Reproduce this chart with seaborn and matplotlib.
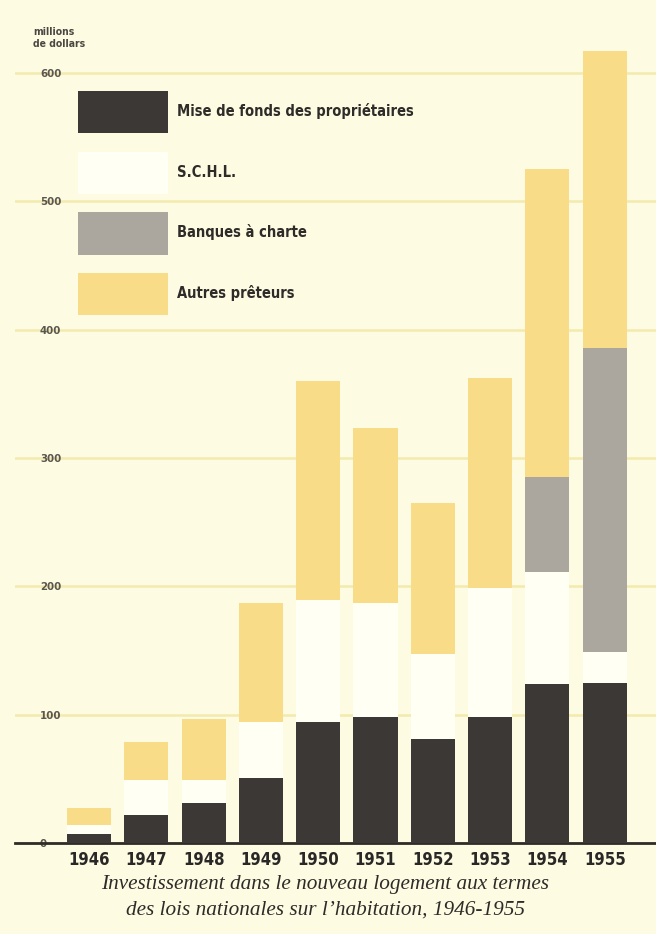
import matplotlib
matplotlib.use("Agg")
import matplotlib.pyplot as plt
import seaborn as sns
import numpy as np
import pandas as pd

years = ["1946", "1947", "1948", "1949", "1950", "1951", "1952", "1953", "1954", "1955"]
proprietaires = [7, 22, 31, 51, 94, 98, 81, 98, 124, 125]
schl = [7, 27, 18, 43, 95, 89, 66, 101, 87, 24]
banques = [0, 0, 0, 0, 0, 0, 0, 0, 74, 237]
autres = [13, 30, 48, 93, 171, 136, 118, 163, 240, 231]
series_names = ["Mise de fonds des propriétaires", "S.C.H.L.", "Banques à charte", "Autres prêteurs"]
yticks = [0, 100, 200, 300, 400, 500, 600]

colors = ["#3c3835", "#fffff4", "#aba79f", "#f8dc88"]
bg = "#fdfce2"

sns.set_theme(style="white")
plt.rcParams["font.family"] = ["DejaVu Sans"]
plt.rcParams["font.stretch"] = "condensed"

W, H = 656, 934
fig = plt.figure(figsize=(W / 100, H / 100), dpi=100, facecolor=bg)
ax = fig.add_axes([15 / W, (H - 843) / H, (656 - 15) / W, (843 - 30) / H])
ax.set_facecolor(bg)

df = pd.DataFrame({"year": years, "p": proprietaires, "s": schl, "b": banques, "a": autres})
bottom = np.zeros(len(years))
for col, name, c in zip(["p", "s", "b", "a"], series_names, colors):
    sns.barplot(data=df, x="year", y=col, bottom=bottom, color=c, width=0.77,
                saturation=1, ax=ax, label=name, linewidth=0, edgecolor="none", zorder=3)
    bottom = bottom + df[col].values
handles, labels = ax.get_legend_handles_labels()
if ax.get_legend() is not None:
    ax.get_legend().remove()

px_per_unit = (843 - 73) / 600.0
ax.set_ylim(0, (843 - 30) / px_per_unit)
step = 57.3
ax.set_xlim(-(89 - 15) / step, (656 - 89) / step)

ax.set_yticks(yticks)
ax.set_yticklabels([str(t) for t in yticks])
ax.yaxis.grid(True, color="#f3eaae", linewidth=1.8, zorder=0)
ax.xaxis.grid(False)
ax.set_axisbelow(True)
ax.tick_params(axis="y", length=0, pad=-18, labelsize=8.2, labelcolor="#5a5650")
for lab in ax.get_yticklabels():
    lab.set_horizontalalignment("left")
    lab.set_fontweight("bold")
    lab.set_zorder(4)
ax.tick_params(axis="x", length=0, pad=6, labelsize=12, labelcolor="#2a2826")
for lab in ax.get_xticklabels():
    lab.set_fontweight("bold")
ax.set_xlabel("")
ax.set_ylabel("")
for s in ["top", "right", "left"]:
    ax.spines[s].set_visible(False)
ax.spines["bottom"].set_color("#2e2b29")
ax.spines["bottom"].set_linewidth(2)

fig.text(33 / W, 1 - 38 / H, "millions\nde dollars", fontsize=7.5, fontweight="bold",
         color="#4a4642", va="center", ha="left", linespacing=1.3)

leg_fs = 10.5
fig.legend(handles[:4], labels[:4], loc="upper left", bbox_to_anchor=(78 / W, 1 - 91 / H),
           frameon=False, handlelength=90 / (leg_fs * 100 / 72), handleheight=4.1,
           labelspacing=1.25, handletextpad=0.6, borderpad=0, borderaxespad=0,
           prop={"weight": "bold", "size": leg_fs, "stretch": "condensed"})
for t in fig.legends[0].get_texts():
    t.set_color("#2e2b29")

cap_font = ["Liberation Serif", "DejaVu Serif"]
fig.text(325 / W, 1 - 885 / H, "Investissement dans le nouveau logement aux termes",
         fontsize=15.3, style="italic", family=cap_font, stretch="normal", color="#2e2b29",
         ha="center", va="center")
fig.text(325 / W, 1 - 910 / H, "des lois nationales sur l’habitation, 1946-1955",
         fontsize=15.3, style="italic", family=cap_font, stretch="normal", color="#2e2b29",
         ha="center", va="center")

fig.savefig("out.png", dpi=100, facecolor=bg)
